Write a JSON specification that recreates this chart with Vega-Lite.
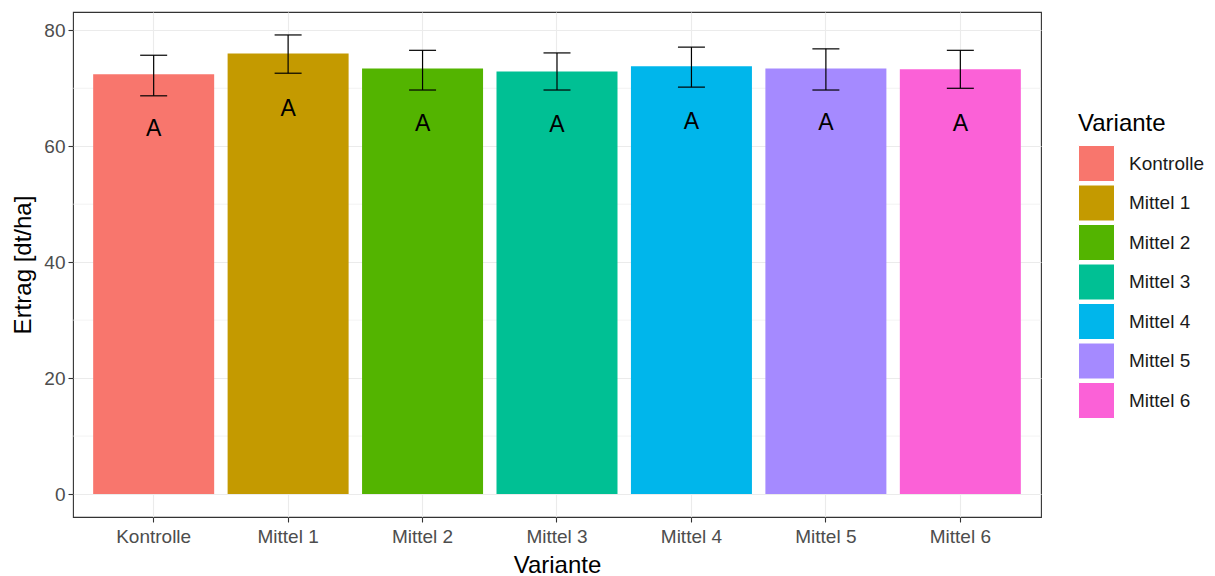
{
  "$schema": "https://vega.github.io/schema/vega-lite/v6.json",
  "autosize": {"type": "none"},
  "width": 968,
  "height": 505,
  "padding": {"left": 73, "top": 12, "right": 174, "bottom": 59},
  "background": "white",
  "config": {
    "font": "Liberation Sans",
    "view": {"stroke": "#333333", "strokeWidth": 1.1},
    "axis": {
      "labelFont": "Liberation Sans",
      "titleFont": "Liberation Sans",
      "labelColor": "#4D4D4D",
      "labelFontSize": 19,
      "titleFontSize": 24,
      "titleFontWeight": "normal",
      "titleColor": "#000000",
      "tickColor": "#333333",
      "tickSize": 5,
      "tickWidth": 1.1,
      "domain": false,
      "gridColor": "#EBEBEB",
      "gridWidth": 1.1
    },
    "legend": {
      "titleFont": "Liberation Sans",
      "labelFont": "Liberation Sans"
    }
  },
  "datasets": {
    "bars": [
      {"Variante": "Kontrolle", "Ertrag": 72.4, "lo": 68.7, "hi": 75.7, "ly": 63.15, "sig": "A"},
      {"Variante": "Mittel 1", "Ertrag": 76.0, "lo": 72.6, "hi": 79.2, "ly": 66.6, "sig": "A"},
      {"Variante": "Mittel 2", "Ertrag": 73.4, "lo": 69.7, "hi": 76.55, "ly": 64.0, "sig": "A"},
      {"Variante": "Mittel 3", "Ertrag": 72.9, "lo": 69.7, "hi": 76.1, "ly": 63.85, "sig": "A"},
      {"Variante": "Mittel 4", "Ertrag": 73.8, "lo": 70.2, "hi": 77.1, "ly": 64.4, "sig": "A"},
      {"Variante": "Mittel 5", "Ertrag": 73.4, "lo": 69.7, "hi": 76.8, "ly": 64.1, "sig": "A"},
      {"Variante": "Mittel 6", "Ertrag": 73.3, "lo": 70.0, "hi": 76.55, "ly": 64.0, "sig": "A"}
    ],
    "minor": [{"v": 10}, {"v": 30}, {"v": 50}, {"v": 70}]
  },
  "layer": [
    {
      "data": {"name": "minor"},
      "mark": {"type": "rule", "color": "#EBEBEB", "strokeWidth": 0.6},
      "encoding": {
        "y": {"field": "v", "type": "quantitative", "scale": {"domain": [-3.96, 83.16], "nice": false, "zero": false},
              "axis": {"values": [0, 20, 40, 60, 80], "title": "Ertrag [dt/ha]", "labelPadding": 3, "titlePadding": 8}}
      }
    },
    {
      "data": {"name": "bars"},
      "layer": [
        {
          "mark": {"type": "bar"},
          "encoding": {
            "x": {
              "field": "Variante", "type": "nominal",
              "scale": {"paddingInner": 0.1, "paddingOuter": 0.15},
              "axis": {"labelAngle": 0, "grid": true, "labelPadding": 5, "titlePadding": 7, "title": "Variante"}
            },
            "y": {
              "field": "Ertrag", "type": "quantitative",
              "scale": {"domain": [-3.96, 83.16], "nice": false, "zero": false},
              "axis": {"values": [0, 20, 40, 60, 80], "title": "Ertrag [dt/ha]", "labelPadding": 3, "titlePadding": 8}
            },
            "fill": {
              "field": "Variante", "type": "nominal",
              "scale": {"range": ["#F8766D", "#C49A00", "#53B400", "#00C094", "#00B6EB", "#A58AFF", "#FB61D7"]},
              "legend": {
                "orient": "none",
                "legendX": 1005,
                "legendY": 100,
                "title": "Variante",
                "titleFontSize": 24,
                "titleFontWeight": "normal",
                "titleColor": "#000000",
                "titlePadding": 9,
                "labelFontSize": 19,
                "labelColor": "#1A1A1A",
                "labelOffset": 14,
                "symbolType": "square",
                "symbolSize": 1296,
                "symbolStrokeColor": "white",
                "symbolStrokeWidth": 1,
                "symbolOpacity": 1,
                "rowPadding": -1.5
              }
            }
          }
        },
        {
          "mark": {"type": "rule", "color": "black", "strokeWidth": 1.2},
          "encoding": {
            "x": {"field": "Variante", "type": "nominal"},
            "y": {"field": "lo", "type": "quantitative"},
            "y2": {"field": "hi"}
          }
        },
        {
          "mark": {"type": "tick", "color": "black", "size": 27, "thickness": 1.2, "opacity": 1},
          "encoding": {
            "x": {"field": "Variante", "type": "nominal"},
            "y": {"field": "lo", "type": "quantitative"}
          }
        },
        {
          "mark": {"type": "tick", "color": "black", "size": 27, "thickness": 1.2, "opacity": 1},
          "encoding": {
            "x": {"field": "Variante", "type": "nominal"},
            "y": {"field": "hi", "type": "quantitative"}
          }
        },
        {
          "mark": {"type": "text", "color": "black", "fontSize": 23, "baseline": "alphabetic", "dy": 8, "font": "Liberation Sans"},
          "encoding": {
            "x": {"field": "Variante", "type": "nominal"},
            "y": {"field": "ly", "type": "quantitative"},
            "text": {"field": "sig"}
          }
        }
      ]
    }
  ]
}
